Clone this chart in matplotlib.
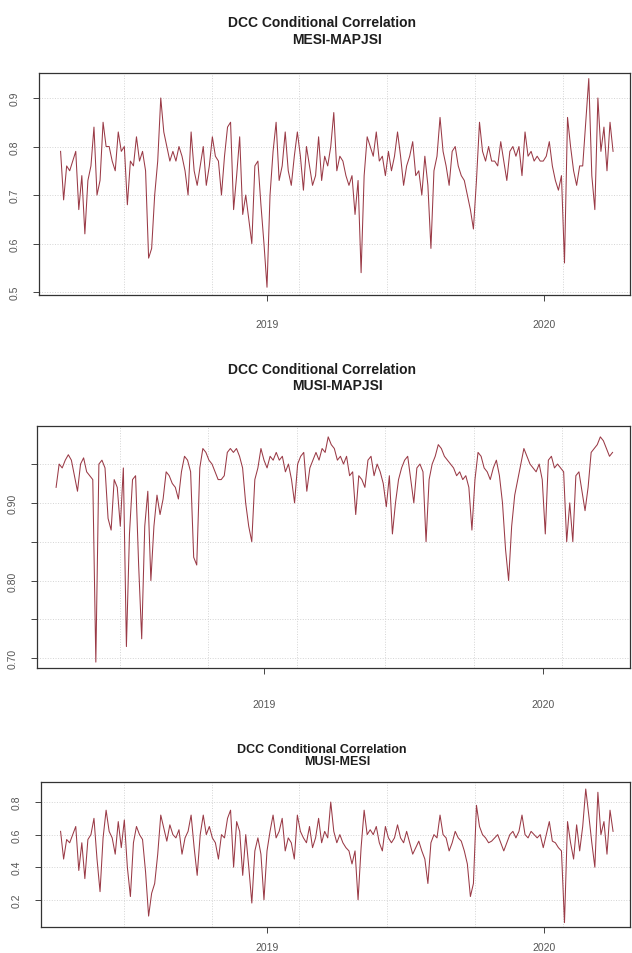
import numpy as np
import pandas as pd
import matplotlib
matplotlib.use("Agg")
import matplotlib.pyplot as plt
import matplotlib.dates as mdates

plt.rcParams['font.family'] = ['Liberation Sans', 'DejaVu Sans']

# Dane: daty i trzy serie korelacji warunkowej DCC
dates = pd.date_range("2018-04-04", periods=183, freq="4D")

mesi_mapjsi = [
    0.79, 0.69, 0.76, 0.75, 0.77, 0.79, 0.67, 0.74, 0.62, 0.73,
    0.76, 0.84, 0.70, 0.73, 0.85, 0.80, 0.80, 0.77, 0.75, 0.83,
    0.79, 0.80, 0.68, 0.77, 0.76, 0.82, 0.77, 0.79, 0.75, 0.57,
    0.59, 0.70, 0.77, 0.90, 0.83, 0.80, 0.77, 0.79, 0.77, 0.80,
    0.78, 0.75, 0.70, 0.83, 0.75, 0.72, 0.76, 0.80, 0.72, 0.76,
    0.82, 0.78, 0.77, 0.70, 0.78, 0.84, 0.85, 0.67, 0.74, 0.82,
    0.66, 0.70, 0.65, 0.60, 0.76, 0.77, 0.68, 0.60, 0.51, 0.70,
    0.79, 0.85, 0.73, 0.76, 0.83, 0.75, 0.72, 0.78, 0.83, 0.78,
    0.71, 0.80, 0.76, 0.72, 0.74, 0.82, 0.73, 0.78, 0.76, 0.80,
    0.87, 0.75, 0.78, 0.77, 0.74, 0.72, 0.74, 0.66, 0.73, 0.54,
    0.74, 0.82, 0.80, 0.78, 0.83, 0.77, 0.78, 0.74, 0.79, 0.75,
    0.78, 0.83, 0.78, 0.72, 0.76, 0.78, 0.81, 0.74, 0.75, 0.70,
    0.78, 0.72, 0.59, 0.75, 0.78, 0.86, 0.79, 0.76, 0.72, 0.79,
    0.80, 0.76, 0.74, 0.73, 0.70, 0.67, 0.63, 0.73, 0.85, 0.79,
    0.77, 0.80, 0.77, 0.77, 0.76, 0.81, 0.77, 0.73, 0.79, 0.80,
    0.78, 0.80, 0.74, 0.83, 0.78, 0.79, 0.77, 0.78, 0.77, 0.77,
    0.78, 0.81, 0.76, 0.73, 0.71, 0.74, 0.56, 0.86, 0.80, 0.75,
    0.72, 0.76, 0.76, 0.85, 0.94, 0.74, 0.67, 0.90, 0.79, 0.84,
    0.75, 0.85, 0.79,
]

musi_mapjsi = [
    0.920, 0.950, 0.945, 0.955, 0.962, 0.955, 0.935, 0.915, 0.950, 0.958,
    0.940, 0.935, 0.930, 0.695, 0.950, 0.955, 0.945, 0.880, 0.865, 0.930,
    0.920, 0.870, 0.945, 0.715, 0.860, 0.930, 0.935, 0.820, 0.725, 0.870,
    0.915, 0.800, 0.870, 0.910, 0.885, 0.905, 0.940, 0.935, 0.925, 0.920,
    0.905, 0.940, 0.960, 0.955, 0.940, 0.830, 0.820, 0.945, 0.970, 0.965,
    0.955, 0.950, 0.940, 0.930, 0.930, 0.935, 0.965, 0.970, 0.965, 0.970,
    0.960, 0.945, 0.900, 0.870, 0.850, 0.930, 0.945, 0.970, 0.955, 0.945,
    0.960, 0.955, 0.965, 0.955, 0.960, 0.940, 0.950, 0.930, 0.900, 0.950,
    0.960, 0.965, 0.915, 0.945, 0.955, 0.965, 0.955, 0.970, 0.965, 0.985,
    0.975, 0.970, 0.955, 0.960, 0.950, 0.960, 0.935, 0.940, 0.885, 0.935,
    0.930, 0.920, 0.955, 0.960, 0.935, 0.950, 0.940, 0.925, 0.895, 0.935,
    0.860, 0.900, 0.930, 0.945, 0.955, 0.960, 0.930, 0.900, 0.945, 0.950,
    0.940, 0.850, 0.930, 0.950, 0.960, 0.975, 0.970, 0.960, 0.955, 0.950,
    0.945, 0.935, 0.940, 0.930, 0.935, 0.920, 0.865, 0.930, 0.965, 0.960,
    0.945, 0.940, 0.930, 0.945, 0.955, 0.935, 0.900, 0.840, 0.800, 0.870,
    0.910, 0.930, 0.950, 0.970, 0.960, 0.950, 0.945, 0.940, 0.950, 0.930,
    0.860, 0.955, 0.960, 0.945, 0.950, 0.945, 0.940, 0.850, 0.900, 0.850,
    0.935, 0.940, 0.915, 0.890, 0.920, 0.965, 0.970, 0.975, 0.985, 0.980,
    0.970, 0.960, 0.965,
]

musi_mesi = [
    0.62, 0.45, 0.57, 0.55, 0.60, 0.65, 0.38, 0.55, 0.33, 0.57,
    0.60, 0.70, 0.45, 0.25, 0.58, 0.75, 0.62, 0.58, 0.48, 0.68,
    0.52, 0.69, 0.40, 0.22, 0.55, 0.65, 0.60, 0.57, 0.37, 0.10,
    0.24, 0.30, 0.48, 0.72, 0.64, 0.56, 0.66, 0.60, 0.58, 0.63,
    0.48, 0.58, 0.62, 0.72, 0.52, 0.35, 0.60, 0.72, 0.60, 0.65,
    0.58, 0.55, 0.45, 0.60, 0.58, 0.70, 0.75, 0.40, 0.68, 0.62,
    0.35, 0.60, 0.40, 0.18, 0.50, 0.58, 0.48, 0.20, 0.50, 0.62,
    0.72, 0.58, 0.62, 0.70, 0.50, 0.58, 0.55, 0.45, 0.72, 0.62,
    0.58, 0.55, 0.65, 0.52, 0.58, 0.70, 0.55, 0.62, 0.58, 0.80,
    0.62, 0.55, 0.60, 0.55, 0.52, 0.50, 0.42, 0.50, 0.20, 0.52,
    0.75, 0.60, 0.63, 0.60, 0.65, 0.55, 0.50, 0.65, 0.58, 0.55,
    0.58, 0.66, 0.58, 0.55, 0.62, 0.55, 0.48, 0.52, 0.56, 0.50,
    0.45, 0.30, 0.55, 0.60, 0.58, 0.72, 0.60, 0.58, 0.50, 0.55,
    0.62, 0.58, 0.56, 0.50, 0.42, 0.22, 0.30, 0.78, 0.65, 0.60,
    0.58, 0.55, 0.56, 0.58, 0.60, 0.55, 0.50, 0.55, 0.60, 0.62,
    0.58, 0.62, 0.72, 0.60, 0.58, 0.62, 0.60, 0.58, 0.60, 0.52,
    0.60, 0.68, 0.56, 0.55, 0.52, 0.50, 0.06, 0.68, 0.55, 0.45,
    0.66, 0.50, 0.65, 0.88, 0.72, 0.55, 0.40, 0.86, 0.60, 0.68,
    0.48, 0.75, 0.62,
]

titles = ["MESI-MAPJSI", "MUSI-MAPJSI", "MUSI-MESI"]
series = [mesi_mapjsi, musi_mapjsi, musi_mesi]

# linie siatki co 1e7 sekund (jak grid() w R na osi POSIXct)
grid_dates = pd.to_datetime([1.52e9, 1.53e9, 1.54e9, 1.55e9, 1.56e9, 1.57e9, 1.58e9, 1.59e9], unit="s")

W, H = 632, 954
dpi = 100
fig = plt.figure(figsize=(W / dpi, H / dpi), dpi=dpi)

# układ w pikselach: left, right, top, bottom, px 2019, px 2020
layout = [
    dict(l=39, r=630, t=74, b=296, p19=267, p20=544, ylim=(0.494, 0.9515),
         yt=[0.5, 0.6, 0.7, 0.8, 0.9], yl=["0.5", "0.6", "0.7", "0.8", "0.9"],
         tit=(23, 40), tsize=10, xpad=13),
    dict(l=37, r=630, t=427, b=669, p19=264, p20=543, ylim=(0.6874, 0.999),
         yt=[0.70, 0.75, 0.80, 0.85, 0.90, 0.95], yl=["0.70", "", "0.80", "", "0.90", ""],
         tit=(370, 386), tsize=10, xpad=18),
    dict(l=41, r=630, t=783, b=928, p19=267, p20=544, ylim=(0.033, 0.923),
         yt=[0.2, 0.4, 0.6, 0.8], yl=["0.2", "0.4", "0.6", "0.8"],
         tit=(750, 762), tsize=9, xpad=7),
]

d19 = mdates.date2num(pd.Timestamp("2019-01-01"))
d20 = mdates.date2num(pd.Timestamp("2020-01-01"))

for s, name, lo in zip(series, titles, layout):
    ax = fig.add_axes([lo['l'] / W, 1 - lo['b'] / H, (lo['r'] - lo['l']) / W, (lo['b'] - lo['t']) / H])
    dpp = (d20 - d19) / (lo['p20'] - lo['p19'])
    ax.set_xlim(d19 - (lo['p19'] - lo['l']) * dpp, d19 + (lo['r'] - lo['p19']) * dpp)
    ax.set_ylim(*lo['ylim'])

    for g in grid_dates:
        ax.axvline(mdates.date2num(g), color='#d4d4d4', lw=0.7, ls=':', zorder=1)
    for y in lo['yt']:
        ax.axhline(y, color='#d4d4d4', lw=0.7, ls=':', zorder=1)

    ax.plot(mdates.date2num(dates), s, color='#9a3a46', lw=0.75, zorder=3)

    ax.set_xticks([d19, d20])
    ax.set_xticklabels(["2019", "2020"])
    ax.set_yticks(lo['yt'])
    ax.set_yticklabels(lo['yl'], rotation=90, va='center')
    ax.tick_params(axis='both', direction='out', length=4, width=0.7, colors='#444444',
                   labelsize=7.5, labelcolor='#555555')
    ax.tick_params(axis='y', pad=10)
    ax.tick_params(axis='x', pad=lo['xpad'])
    for sp in ax.spines.values():
        sp.set_color('#333333')
        sp.set_linewidth(0.9)

    fig.text(322 / W, 1 - lo['tit'][0] / H, "DCC Conditional Correlation", ha='center', va='center',
             fontsize=lo['tsize'], fontweight='bold', color='#1e1e1e')
    fig.text(337 / W, 1 - lo['tit'][1] / H, name, ha='center', va='center',
             fontsize=lo['tsize'], fontweight='bold', color='#1e1e1e')

fig.savefig("out.png", dpi=dpi)
